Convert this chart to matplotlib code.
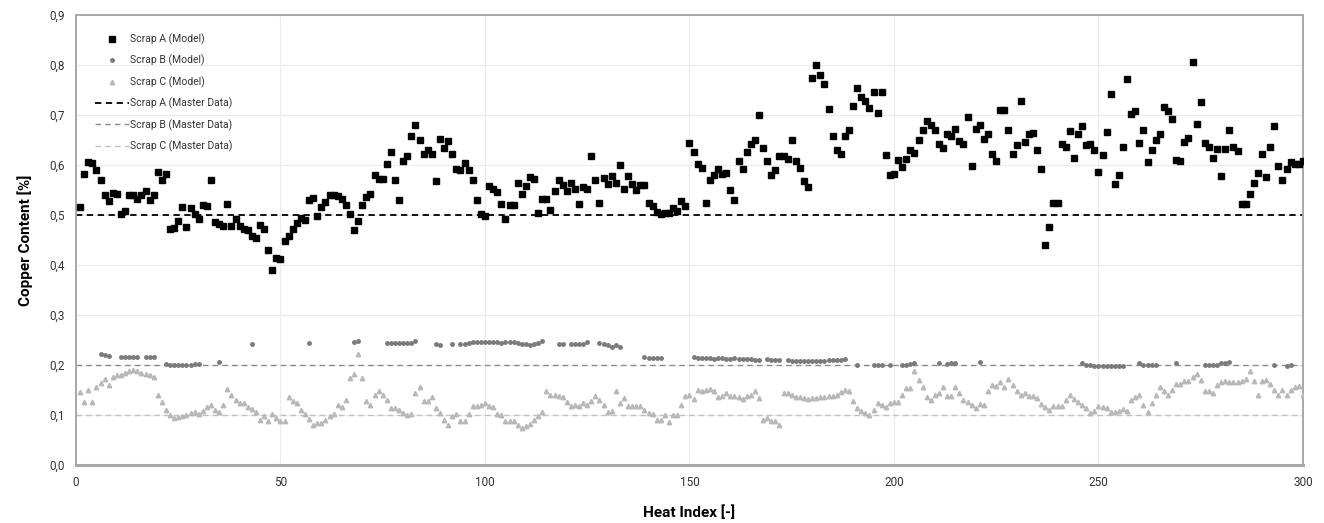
import matplotlib
matplotlib.use("Agg")
import matplotlib.pyplot as plt
from matplotlib.ticker import FuncFormatter

plt.rcParams['font.family'] = ['Roboto', 'DejaVu Sans']

# heat index 1..300
heat = list(range(1, 301))

scrap_a = [
    0.517, 0.582, 0.607, 0.605, 0.59, 0.57, 0.54, 0.529, 0.545, 0.543,
    0.502, 0.508, 0.54, 0.54, 0.533, 0.541, 0.549, 0.531, 0.54, 0.587,
    0.57, 0.582, 0.473, 0.475, 0.489, 0.517, 0.477, 0.515, 0.503, 0.493,
    0.521, 0.518, 0.57, 0.487, 0.482, 0.479, 0.523, 0.478, 0.493, 0.478,
    0.473, 0.47, 0.458, 0.455, 0.481, 0.473, 0.431, 0.39, 0.415, 0.413,
    0.449, 0.459, 0.473, 0.485, 0.495, 0.491, 0.531, 0.535, 0.498, 0.517,
    0.527, 0.541, 0.541, 0.539, 0.533, 0.52, 0.502, 0.47, 0.489, 0.521,
    0.537, 0.543, 0.581, 0.573, 0.573, 0.603, 0.627, 0.571, 0.53, 0.609,
    0.619, 0.658, 0.681, 0.651, 0.622, 0.63, 0.622, 0.568, 0.652, 0.635,
    0.648, 0.622, 0.593, 0.59, 0.605, 0.591, 0.571, 0.53, 0.502, 0.498,
    0.558, 0.553, 0.547, 0.523, 0.493, 0.521, 0.52, 0.565, 0.543, 0.558,
    0.577, 0.573, 0.505, 0.533, 0.533, 0.511, 0.548, 0.571, 0.56, 0.548,
    0.565, 0.553, 0.522, 0.557, 0.553, 0.619, 0.571, 0.525, 0.575, 0.562,
    0.578, 0.565, 0.6, 0.553, 0.579, 0.562, 0.551, 0.56, 0.56, 0.525,
    0.518, 0.507, 0.502, 0.505, 0.505, 0.515, 0.509, 0.528, 0.518, 0.645,
    0.627, 0.603, 0.595, 0.525, 0.571, 0.58, 0.593, 0.582, 0.585, 0.551,
    0.531, 0.608, 0.593, 0.627, 0.642, 0.65, 0.701, 0.635, 0.608, 0.581,
    0.59, 0.618, 0.618, 0.613, 0.65, 0.608, 0.595, 0.569, 0.557, 0.775,
    0.8, 0.78, 0.763, 0.713, 0.658, 0.63, 0.622, 0.658, 0.671, 0.719,
    0.755, 0.737, 0.728, 0.715, 0.747, 0.705, 0.747, 0.621, 0.581, 0.583,
    0.61, 0.597, 0.612, 0.63, 0.625, 0.65, 0.671, 0.688, 0.68, 0.671,
    0.643, 0.635, 0.663, 0.658, 0.673, 0.648, 0.642, 0.697, 0.598, 0.672,
    0.681, 0.653, 0.662, 0.623, 0.609, 0.71, 0.71, 0.67, 0.623, 0.641,
    0.729, 0.647, 0.662, 0.665, 0.631, 0.593, 0.441, 0.477, 0.525, 0.525,
    0.643, 0.637, 0.668, 0.615, 0.663, 0.679, 0.64, 0.643, 0.631, 0.587,
    0.62, 0.666, 0.743, 0.562, 0.581, 0.637, 0.772, 0.702, 0.708, 0.645,
    0.671, 0.606, 0.63, 0.65, 0.662, 0.717, 0.709, 0.693, 0.61, 0.609,
    0.647, 0.655, 0.807, 0.683, 0.727, 0.645, 0.637, 0.615, 0.633, 0.579,
    0.633, 0.67, 0.637, 0.629, 0.522, 0.522, 0.543, 0.565, 0.585, 0.622,
    0.577, 0.637, 0.678, 0.598, 0.571, 0.592, 0.607, 0.603, 0.603, 0.609,
]

scrap_b_idx = (
    [6, 7, 8, 11, 12, 13, 14, 15, 17, 18, 19]
    + list(range(22, 31)) + [35, 43, 57, 68, 69]
    + list(range(76, 84)) + [88, 89, 92, 94, 95]
    + list(range(96, 115)) + [118, 119] + list(range(121, 126))
    + list(range(128, 134)) + list(range(139, 144))
    + list(range(151, 168)) + list(range(169, 173)) + list(range(174, 189))
    + [191, 195, 196, 197, 199, 202, 203, 204, 205, 211, 213, 214, 215, 221]
    + list(range(246, 257)) + list(range(260, 265)) + [269]
    + list(range(276, 283)) + [293, 296, 297]
)
scrap_b = (
    [0.222, 0.22, 0.218, 0.217, 0.217, 0.217, 0.217, 0.217, 0.217, 0.217, 0.215]
    + [0.202, 0.2, 0.2, 0.199, 0.2, 0.2, 0.2, 0.201, 0.202]
    + [0.205, 0.243, 0.245, 0.247, 0.249]
    + [0.245, 0.244, 0.244, 0.244, 0.244, 0.244, 0.245, 0.249]
    + [0.242, 0.241, 0.243, 0.242, 0.243]
    + [0.245, 0.246, 0.246, 0.246, 0.246, 0.246, 0.246, 0.246, 0.245, 0.246,
       0.247, 0.246, 0.245, 0.243, 0.242, 0.241, 0.243, 0.245, 0.248]
    + [0.243, 0.242]
    + [0.242, 0.242, 0.243, 0.243, 0.247]
    + [0.245, 0.243, 0.24, 0.237, 0.24, 0.237]
    + [0.215, 0.213, 0.213, 0.213, 0.214]
    + [0.215, 0.214, 0.213, 0.213, 0.213, 0.212, 0.213, 0.213, 0.212, 0.212,
       0.213, 0.212, 0.212, 0.211, 0.212, 0.21, 0.21]
    + [0.211, 0.21, 0.21, 0.21]
    + [0.209, 0.208, 0.208, 0.208, 0.207, 0.207, 0.207, 0.208, 0.208, 0.208,
       0.209, 0.209, 0.21, 0.21, 0.211]
    + [0.2, 0.2, 0.2, 0.2, 0.2, 0.2, 0.2, 0.201, 0.203, 0.203, 0.202, 0.203,
       0.203, 0.205]
    + [0.203, 0.2, 0.199, 0.198, 0.198, 0.198, 0.198, 0.198, 0.198, 0.197, 0.198]
    + [0.203, 0.2, 0.2, 0.2, 0.2] + [0.203]
    + [0.2, 0.2, 0.2, 0.2, 0.203, 0.203, 0.205]
    + [0.2, 0.198, 0.2]
)

scrap_c = [
    0.145, 0.125, 0.15, 0.125, 0.155, 0.163, 0.171, 0.159, 0.176, 0.179,
    0.18, 0.183, 0.187, 0.19, 0.187, 0.183, 0.181, 0.18, 0.175, 0.139,
    0.125, 0.11, 0.099, 0.093, 0.095, 0.097, 0.1, 0.103, 0.105, 0.102,
    0.108, 0.115, 0.119, 0.11, 0.105, 0.12, 0.152, 0.14, 0.13, 0.123,
    0.123, 0.115, 0.112, 0.105, 0.09, 0.097, 0.087, 0.101, 0.093, 0.087,
    0.087, 0.135, 0.127, 0.123, 0.11, 0.101, 0.092, 0.08, 0.083, 0.083,
    0.09, 0.097, 0.101, 0.12, 0.115, 0.13, 0.173, 0.181, 0.223, 0.173,
    0.128, 0.12, 0.14, 0.147, 0.14, 0.13, 0.113, 0.113, 0.11, 0.103,
    0.1, 0.101, 0.143, 0.155, 0.128, 0.128, 0.135, 0.113, 0.103, 0.09,
    0.08, 0.097, 0.101, 0.088, 0.087, 0.101, 0.117, 0.117, 0.119, 0.123,
    0.117, 0.115, 0.101, 0.099, 0.087, 0.087, 0.087, 0.08, 0.073, 0.077,
    0.081, 0.09, 0.097, 0.105, 0.148, 0.14, 0.139, 0.137, 0.135, 0.125,
    0.117, 0.12, 0.117, 0.123, 0.12, 0.128, 0.137, 0.13, 0.119, 0.105,
    0.108, 0.148, 0.123, 0.133, 0.117, 0.117, 0.117, 0.117, 0.11, 0.103,
    0.101, 0.09, 0.09, 0.099, 0.085, 0.099, 0.1, 0.12, 0.137, 0.139,
    0.132, 0.15, 0.148, 0.15, 0.152, 0.147, 0.135, 0.137, 0.143, 0.137,
    0.137, 0.135, 0.132, 0.138, 0.14, 0.147, 0.133, 0.09, 0.093, 0.088,
    0.087, 0.08, 0.143, 0.143, 0.14, 0.135, 0.135, 0.133, 0.132, 0.133,
    0.133, 0.135, 0.135, 0.137, 0.137, 0.14, 0.145, 0.15, 0.147, 0.127,
    0.113, 0.108, 0.103, 0.1, 0.11, 0.123, 0.12, 0.115, 0.123, 0.125,
    0.125, 0.14, 0.153, 0.153, 0.187, 0.17, 0.155, 0.135, 0.13, 0.14,
    0.143, 0.155, 0.137, 0.137, 0.155, 0.143, 0.13, 0.125, 0.12, 0.113,
    0.121, 0.12, 0.148, 0.16, 0.157, 0.165, 0.155, 0.172, 0.159, 0.147,
    0.14, 0.143, 0.137, 0.137, 0.133, 0.121, 0.115, 0.11, 0.117, 0.117,
    0.117, 0.13, 0.139, 0.132, 0.125, 0.12, 0.113, 0.103, 0.108, 0.117,
    0.115, 0.113, 0.105, 0.105, 0.107, 0.112, 0.108, 0.13, 0.135, 0.14,
    0.12, 0.105, 0.123, 0.14, 0.155, 0.148, 0.14, 0.15, 0.161, 0.161,
    0.168, 0.167, 0.175, 0.181, 0.17, 0.148, 0.147, 0.143, 0.159, 0.165,
    0.167, 0.165, 0.165, 0.165, 0.168, 0.172, 0.187, 0.168, 0.14, 0.168,
    0.17, 0.161, 0.15, 0.139, 0.15, 0.139, 0.15, 0.155, 0.157, 0.14,
]

master_a = 0.5
master_b = 0.2
master_c = 0.1

fig = plt.figure(figsize=(13.24, 5.23), dpi=100)
ax = fig.add_axes([0.0574, 0.111, 0.9267, 0.86])

ax.plot(heat, scrap_a, 's', color='black', markersize=4.0, label='Scrap A (Model)', zorder=4)
ax.plot(scrap_b_idx, scrap_b, 'o', color='#7a7a7a', markersize=2.5, label='Scrap B (Model)', zorder=3)
ax.plot(heat, scrap_c, '^', color='#b8b8b8', markersize=3.2, label='Scrap C (Model)', zorder=3)
ax.plot([0, 300], [master_a, master_a], '--', color='black', lw=1.3, dashes=(3.5, 2.5), label='Scrap A (Master Data)', zorder=2)
ax.plot([0, 300], [master_b, master_b], '--', color='#8a8a8a', lw=1.0, dashes=(4, 3), label='Scrap B (Master Data)', zorder=2)
ax.plot([0, 300], [master_c, master_c], '--', color='#c0c0c0', lw=1.0, dashes=(4, 3), label='Scrap C (Master Data)', zorder=2)

ax.set_xlim(0, 300)
ax.set_ylim(0, 0.9)
ax.set_xticks(range(0, 301, 50))
ax.set_yticks([i / 10 for i in range(10)])
ax.yaxis.set_major_formatter(FuncFormatter(lambda v, p: f"{v:.1f}".replace('.', ',')))
ax.tick_params(length=0, labelsize=8.5, colors='#333333', pad=8)
ax.grid(True, color='#ececec', lw=0.8)
ax.set_axisbelow(True)
for s in ax.spines.values():
    s.set_color('#a8a8a8')
    s.set_linewidth(1.4)
ax.spines['bottom'].set_linewidth(2.2)

ax.set_xlabel('Heat Index [-]', fontsize=11, fontweight='bold', labelpad=12)
ax.set_ylabel('Copper Content [%]', fontsize=11, fontweight='bold', labelpad=12)

ax.legend(loc='upper left', bbox_to_anchor=(0.008, 0.98), frameon=False,
          fontsize=7.5, labelspacing=0.95, handlelength=3.2, handletextpad=0.15,
          markerscale=1.0, labelcolor='#333333')

fig.savefig('out.png', dpi=100)
